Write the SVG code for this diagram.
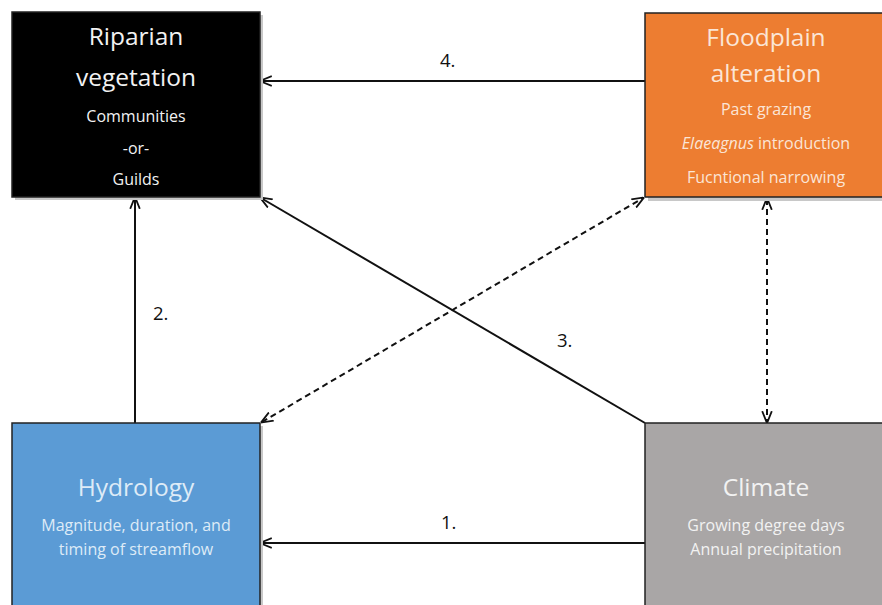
<svg xmlns="http://www.w3.org/2000/svg" width="882" height="605" viewBox="0 0 882 605">
<defs>
<style>
.box{stroke:#222;stroke-width:1.5}
.shadow{fill:#c8c8c8}
.t{font-family:"Open Sans","Liberation Sans",sans-serif;text-anchor:middle}
.title{font-size:24.5px}
.sub{font-size:16px}
.lbl{font-family:"Open Sans","Liberation Sans",sans-serif;font-size:18.5px;fill:#111}
.ln{stroke:#111;stroke-width:2;fill:none}
.dash{stroke:#111;stroke-width:2;fill:none;stroke-dasharray:6,4}
</style>
<marker id="ahs" viewBox="0 0 10 10" refX="9" refY="5" markerWidth="12" markerHeight="12" orient="auto-start-reverse" markerUnits="userSpaceOnUse">
<path d="M0,1 L10,5 L0,9" fill="none" stroke="#111" stroke-width="1.5"/>
</marker>
</defs>
<rect width="882" height="605" fill="#fff"/>
<g id="connectors">
<line class="ln" x1="645" y1="81" x2="261" y2="81" marker-end="url(#ahs)"/>
<line class="ln" x1="135" y1="423" x2="135" y2="198" marker-end="url(#ahs)"/>
<line class="ln" x1="645" y1="423" x2="261" y2="198" marker-end="url(#ahs)"/>
<line class="ln" x1="645" y1="543" x2="261" y2="543" marker-end="url(#ahs)"/>
<line class="dash" x1="262" y1="422" x2="643" y2="198" marker-start="url(#ahs)" marker-end="url(#ahs)"/>
<line class="dash" x1="767" y1="199" x2="767" y2="422" marker-start="url(#ahs)" marker-end="url(#ahs)"/>
<text class="lbl" x="440" y="67">4.</text>
<text class="lbl" x="153" y="320">2.</text>
<text class="lbl" x="557" y="347">3.</text>
<text class="lbl" x="441" y="529">1.</text>
</g>
<g id="riparian">
<rect class="shadow" x="15" y="15" width="248" height="185"/>
<rect class="box" x="12" y="12" width="248" height="185" fill="#000"/>
<text class="t title" x="136" y="45" fill="#f2f2f2">Riparian</text>
<text class="t title" x="136" y="86" fill="#f2f2f2">vegetation</text>
<text class="t sub" x="136" y="122" fill="#f2f2f2">Communities</text>
<text class="t sub" x="136" y="154" fill="#f2f2f2">-or-</text>
<text class="t sub" x="136" y="185" fill="#f2f2f2">Guilds</text>
</g>
<g id="floodplain">
<rect class="shadow" x="648" y="16" width="240" height="185"/>
<rect class="box" x="645" y="13" width="240" height="184" fill="#ed7d31"/>
<text class="t title" x="766" y="46" fill="#fbe5d6">Floodplain</text>
<text class="t title" x="766" y="82" fill="#fbe5d6">alteration</text>
<text class="t sub" x="766" y="115" fill="#fbe5d6">Past grazing</text>
<text class="t sub" x="766" y="149" fill="#fbe5d6"><tspan font-style="italic">Elaeagnus</tspan> introduction</text>
<text class="t sub" x="766" y="183" fill="#fbe5d6">Fucntional narrowing</text>
</g>
<g id="hydrology">
<rect class="shadow" x="15" y="426" width="248" height="190"/>
<rect class="box" x="12" y="423" width="248" height="190" fill="#5b9bd5"/>
<text class="t title" x="136" y="496" fill="#deebf7">Hydrology</text>
<text class="t sub" x="136" y="531" fill="#deebf7">Magnitude, duration, and</text>
<text class="t sub" x="136" y="555" fill="#deebf7">timing of streamflow</text>
</g>
<g id="climate">
<rect class="box" x="645" y="423" width="240" height="190" fill="#a9a6a6"/>
<text class="t title" x="766" y="496" fill="#f2f2f2">Climate</text>
<text class="t sub" x="766" y="531" fill="#f2f2f2">Growing degree days</text>
<text class="t sub" x="766" y="555" fill="#f2f2f2">Annual precipitation</text>
</g>
</svg>
